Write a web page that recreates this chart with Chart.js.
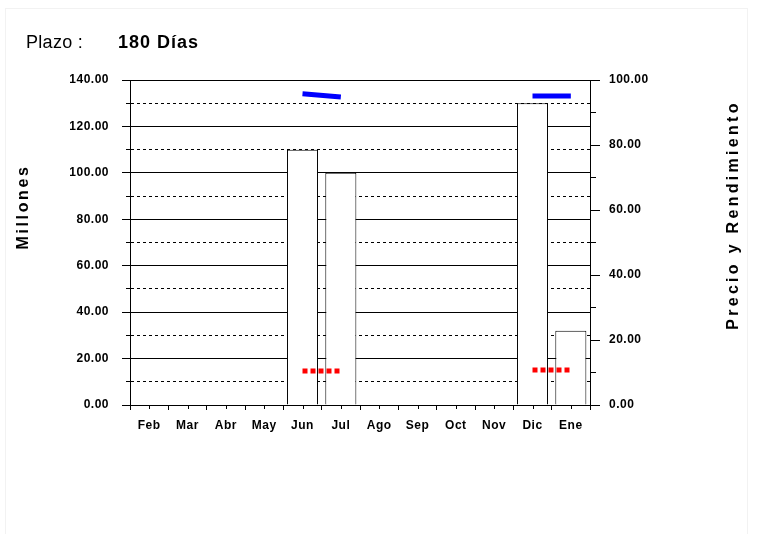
<!DOCTYPE html>
<html>
<head>
<meta charset="utf-8">
<script src="https://cdn.jsdelivr.net/npm/chart.js@4/dist/chart.umd.min.js"></script>
<style>
  body { margin: 0; background: #fff; }
  #marco { position: absolute; left: 5px; top: 8px; width: 741px; height: 540px; border: 1px solid #f2f2f2; }
  #wrap { position: absolute; left: 0; top: 0; width: 760px; height: 534px; }
</style>
</head>
<body>
<div id="marco"></div>
<div id="wrap"><canvas id="grafico" width="760" height="534"></canvas></div>
<script>
const meses = ['Feb', 'Mar', 'Abr', 'May', 'Jun', 'Jul', 'Ago', 'Sep', 'Oct', 'Nov', 'Dic', 'Ene'];
const montos = [null, null, null, null, 110, 100, null, null, null, null, 130, 32];
const precio = [null, null, null, null, 95.8, 94.8, null, null, null, null, 95.1, 95.1];
const rendimiento = [null, null, null, null, 10.5, 10.5, null, null, null, null, 10.8, 10.8];
const ticksIzq = [0, 140, 10];   // min, max, paso
const ticksDer = [0, 100, 10];

const tituloPlazo = 'Plazo :';
const tituloDias = '180 Días';
const tituloIzq = 'Millones';
const tituloDer = 'Precio y Rendimiento';

const fuente = '"Liberation Sans", Arial, sans-serif';

// textos y marcas que chart.js no pone solo
const extras = {
  id: 'extras',
  beforeDraw(chart) {
    chart.ctx.letterSpacing = '0.5px';
  },
  afterDraw(chart) {
    const ctx = chart.ctx;
    const xs = chart.scales.x;
    ctx.save();
    // marcas al centro de cada mes
    ctx.strokeStyle = '#000';
    ctx.lineWidth = 1;
    meses.forEach((m, i) => {
      const px = Math.round(xs.getPixelForValue(i)) + 0.5;
      ctx.beginPath();
      ctx.moveTo(px, xs.top);
      ctx.lineTo(px, xs.top + 4);
      ctx.stroke();
    });

    ctx.fillStyle = '#000';
    ctx.textBaseline = 'alphabetic';
    ctx.textAlign = 'left';
    ctx.letterSpacing = '0.3px';
    ctx.font = '18px ' + fuente;
    ctx.fillText(tituloPlazo, 26, 48);
    ctx.letterSpacing = '1px';
    ctx.font = 'bold 18px ' + fuente;
    ctx.fillText(tituloDias, 118, 48);

    ctx.font = 'bold 16px ' + fuente;
    ctx.textAlign = 'center';
    ctx.textBaseline = 'middle';
    ctx.letterSpacing = '2.6px';
    ctx.save();
    ctx.translate(24, 207);
    ctx.rotate(-Math.PI / 2);
    ctx.fillText(tituloIzq, 0, 0);
    ctx.restore();
    ctx.letterSpacing = '3.3px';
    ctx.save();
    ctx.translate(734, 215);
    ctx.rotate(-Math.PI / 2);
    ctx.fillText(tituloDer, 0, 0);
    ctx.restore();
    ctx.restore();
  }
};

const esMayor = v => v % 20 === 0;

new Chart(document.getElementById('grafico'), {
  data: {
    labels: meses,
    datasets: [
      {
        type: 'line',
        label: 'Precio',
        data: precio,
        yAxisID: 'y1',
        borderColor: '#0000ff',
        borderWidth: 5,
        borderCapStyle: 'butt',
        pointRadius: 0,
        spanGaps: false,
        order: 1
      },
      {
        type: 'line',
        label: 'Rendimiento',
        data: rendimiento,
        yAxisID: 'y1',
        borderColor: '#ff0000',
        borderWidth: 5,
        borderDash: [5, 3],
        borderCapStyle: 'butt',
        pointRadius: 0,
        spanGaps: false,
        order: 1
      },
      {
        type: 'bar',
        label: 'Millones',
        data: montos,
        yAxisID: 'y',
        backgroundColor: '#ffffff',
        borderColor: '#000000',
        borderWidth: 1,
        categoryPercentage: 1,
        barPercentage: 0.81,
        order: 2
      }
    ]
  },
  options: {
    responsive: false,
    animation: false,
    layout: { padding: { top: 80, left: 0, right: 0, bottom: 0 } },
    plugins: { legend: { display: false }, tooltip: { enabled: false } },
    scales: {
      x: {
        type: 'category',
        offset: true,
        afterFit(s) { s.height = 129; },
        grid: { drawOnChartArea: false, offset: true, color: '#000', tickLength: 5 },
        border: { color: '#000', width: 1 },
        ticks: { color: '#000', padding: 8, maxRotation: 0, autoSkip: false, font: { family: fuente, size: 12, weight: 'bold' } }
      },
      y: {
        position: 'left',
        min: ticksIzq[0],
        max: ticksIzq[1],
        afterFit(s) { s.width = 130; },
        grid: {
          color: '#000',
          lineWidth: 1,
          tickLength: 8,
          tickBorderDash: c => (c.tick && !esMayor(c.tick.value)) ? [0, 4, 4, 100] : []
        },
        border: {
          color: '#000',
          width: 1,
          dash: c => (c.tick && !esMayor(c.tick.value)) ? [3, 3] : []
        },
        ticks: {
          stepSize: ticksIzq[2],
          color: '#000',
          padding: 13,
          font: { family: fuente, size: 12, weight: 'bold' },
          callback: v => esMayor(v) ? v.toFixed(2) : ''
        }
      },
      y1: {
        position: 'right',
        min: ticksDer[0],
        max: ticksDer[1],
        afterFit(s) { s.width = 170; },
        grid: {
          drawOnChartArea: false,
          color: '#000',
          tickLength: 10,
          tickBorderDash: c => (c.tick && !esMayor(c.tick.value)) ? [5, 100] : []
        },
        border: { color: '#000', width: 1 },
        ticks: {
          stepSize: ticksDer[2],
          color: '#000',
          padding: 9,
          font: { family: fuente, size: 12, weight: 'bold' },
          callback: v => esMayor(v) ? v.toFixed(2) : ''
        }
      }
    }
  },
  plugins: [extras]
});
</script>
</body>
</html>
